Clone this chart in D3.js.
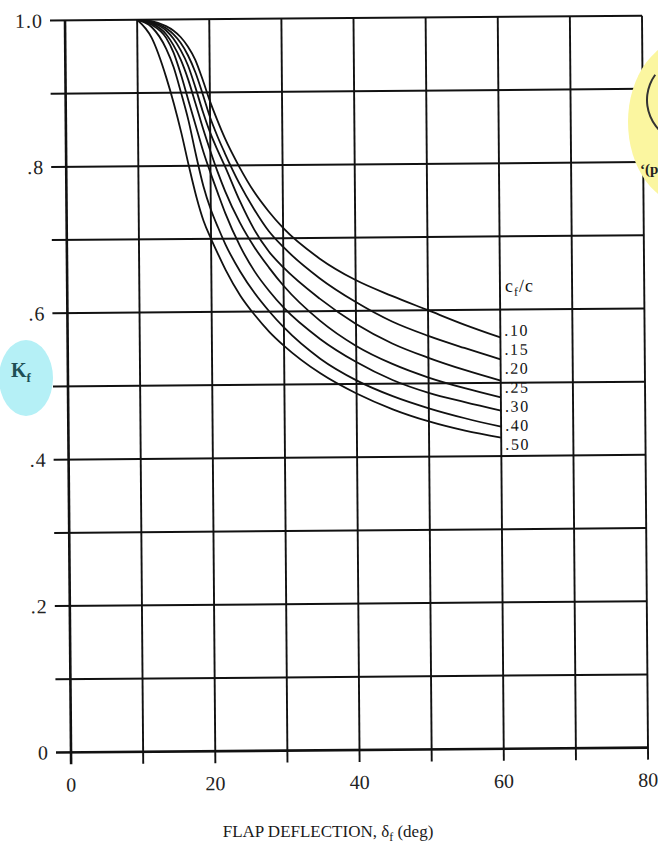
<!DOCTYPE html>
<html>
<head>
<meta charset="utf-8">
<script src="https://cdn.jsdelivr.net/npm/d3@7"></script>
<style>
  html, body { margin: 0; padding: 0; background: #fff; }
  svg { display: block; font-family: "Liberation Serif", "DejaVu Serif", serif; }
</style>
</head>
<body>
<div id="chart"></div>
<script>
const width = 658
const height = 848

// flap deflection (deg) where the curves were read
const deflection = [10, 12, 14, 15, 16, 17, 18, 19, 20, 21, 22, 24, 26, 28, 30, 35, 40, 45, 50, 55, 60]

// chord ratio cf/c, one curve each
const ratios = [".10", ".15", ".20", ".25", ".30", ".40", ".50"]

const kf10 = [1.0, 0.998, 0.991, 0.985, 0.976, 0.963, 0.945, 0.918, 0.888, 0.862, 0.838, 0.798, 0.764, 0.737, 0.714, 0.672, 0.642, 0.62, 0.60, 0.58, 0.562]
const kf15 = [1.0, 0.997, 0.988, 0.98, 0.968, 0.951, 0.928, 0.898, 0.866, 0.84, 0.817, 0.775, 0.74, 0.71, 0.688, 0.645, 0.612, 0.585, 0.565, 0.548, 0.532]
const kf20 = [1.0, 0.996, 0.985, 0.974, 0.958, 0.937, 0.907, 0.874, 0.845, 0.821, 0.799, 0.752, 0.712, 0.682, 0.66, 0.617, 0.582, 0.555, 0.535, 0.518, 0.503]
const kf25 = [1.0, 0.995, 0.98, 0.965, 0.945, 0.918, 0.885, 0.851, 0.82, 0.791, 0.765, 0.722, 0.688, 0.66, 0.635, 0.587, 0.552, 0.527, 0.508, 0.493, 0.48]
const kf30 = [1.0, 0.993, 0.975, 0.955, 0.925, 0.89, 0.855, 0.82, 0.79, 0.762, 0.735, 0.69, 0.655, 0.628, 0.605, 0.562, 0.53, 0.505, 0.487, 0.474, 0.462]
const kf40 = [1.0, 0.99, 0.96, 0.935, 0.9, 0.862, 0.815, 0.772, 0.74, 0.715, 0.692, 0.655, 0.625, 0.60, 0.578, 0.535, 0.505, 0.483, 0.466, 0.452, 0.44]
const kf50 = [1.0, 0.975, 0.92, 0.885, 0.845, 0.80, 0.758, 0.724, 0.70, 0.678, 0.657, 0.622, 0.595, 0.572, 0.553, 0.515, 0.487, 0.465, 0.448, 0.435, 0.425]

const series = [kf10, kf15, kf20, kf25, kf30, kf40, kf50]

const xTicks = [0, 10, 20, 30, 40, 50, 60, 70, 80]
const xLabels = ["0", "", "20", "", "40", "", "60", "", "80"]
const yTicks = [0, 0.1, 0.2, 0.3, 0.4, 0.5, 0.6, 0.7, 0.8, 0.9, 1.0]
const yLabels = ["0", "", ".2", "", ".4", "", ".6", "", ".8", "", "1.0"]

const x = d3.scaleLinear().domain([0, 80]).range([68, 645])
const y = d3.scaleLinear().domain([0, 1]).range([750, 18])

const ink = "#111"

const svg = d3.select("#chart")
  .append("svg")
  .attr("width", width)
  .attr("height", height)
  .attr("viewBox", [0, 0, width, height])

// the scanned figure sits slightly tilted
const plot = svg.append("g")
  .attr("transform", `rotate(-0.47, ${(x(0) + x(80)) / 2}, ${(y(0) + y(1)) / 2})`)

// grid, with short ticks running past the left and bottom edges
plot.append("g")
  .selectAll("line")
  .data(yTicks)
  .join("line")
    .attr("x1", x(0) - 15)
    .attr("x2", x(80))
    .attr("y1", d => y(d))
    .attr("y2", d => y(d))
    .attr("stroke", ink)
    .attr("stroke-width", d => d === 0 ? 2.6 : 2)

plot.append("g")
  .selectAll("line")
  .data(xTicks)
  .join("line")
    .attr("x1", d => x(d))
    .attr("x2", d => x(d))
    .attr("y1", y(1))
    .attr("y2", y(0) + 12)
    .attr("stroke", ink)
    .attr("stroke-width", d => d === 0 ? 2.6 : 1.9)

// tick labels
plot.append("g")
  .selectAll("text")
  .data(yTicks)
  .join("text")
    .attr("x", x(0) - 22)
    .attr("y", d => y(d))
    .attr("dy", "0.35em")
    .attr("text-anchor", "end")
    .attr("font-size", 20)
    .attr("letter-spacing", 1)
    .attr("fill", "#222")
    .text((d, i) => yLabels[i])

plot.append("g")
  .selectAll("text")
  .data(xTicks)
  .join("text")
    .attr("x", d => x(d))
    .attr("y", y(0) + 32)
    .attr("dy", "0.35em")
    .attr("text-anchor", "middle")
    .attr("font-size", 20)
    .attr("fill", "#222")
    .text((d, i) => xLabels[i])

// curves
const line = d3.line()
  .x((d, i) => x(deflection[i]))
  .y(d => y(d))
  .curve(d3.curveMonotoneX)

plot.append("g")
  .selectAll("path")
  .data(series)
  .join("path")
    .attr("d", d => line(d))
    .attr("fill", "none")
    .attr("stroke", ink)
    .attr("stroke-width", 1.8)

// cf/c key at the ends of the curves
const key = plot.append("g")
  .attr("fill", "#111")

const head = key.append("text")
  .attr("x", x(60) + 5)
  .attr("y", 293)
  .attr("font-size", 18)
  .attr("letter-spacing", 1)
head.append("tspan").text("c")
head.append("tspan").attr("font-size", 12).attr("dy", 4).text("f")
head.append("tspan").attr("dy", -4).text("/c")

key.selectAll("text.ratio")
  .data(ratios)
  .join("text")
    .attr("class", "ratio")
    .attr("x", x(60) + 4)
    .attr("y", (d, i) => 337 + i * 19)
    .attr("font-size", 16)
    .attr("letter-spacing", 1.6)
    .text(d => d)

// axis titles
const title = svg.append("text")
  .attr("x", 328)
  .attr("y", 837)
  .attr("text-anchor", "middle")
  .attr("font-size", 17)
  .attr("fill", "#1a1a1a")
title.append("tspan").text("FLAP DEFLECTION, δ")
title.append("tspan").attr("font-size", 12).attr("dy", 4).text("f")
title.append("tspan").attr("dy", -4).text(" (deg)")

svg.append("ellipse")
  .attr("cx", 26)
  .attr("cy", 378)
  .attr("rx", 27)
  .attr("ry", 38)
  .attr("fill", "#b5f0f6")

const kf = svg.append("text")
  .attr("x", 11)
  .attr("y", 377)
  .attr("font-size", 20)
  .attr("font-weight", "bold")
  .attr("fill", "#1d4f55")
kf.append("tspan").text("K")
kf.append("tspan").attr("font-size", 13).attr("dy", 5).text("f")

// highlighted note cut off at the right edge
svg.append("ellipse")
  .attr("cx", 690)
  .attr("cy", 122)
  .attr("rx", 62)
  .attr("ry", 84)
  .attr("fill", "#fbf6a0")

svg.append("path")
  .attr("d", d3.arc()({innerRadius: 42, outerRadius: 44, startAngle: -Math.PI * 0.95, endAngle: -Math.PI * 0.3}))
  .attr("transform", "translate(690,100)")
  .attr("fill", "#333")

svg.append("text")
  .attr("x", 640)
  .attr("y", 174)
  .attr("font-size", 15)
  .attr("font-weight", "bold")
  .attr("fill", "#222")
  .text("‘(p")
</script>
</body>
</html>
